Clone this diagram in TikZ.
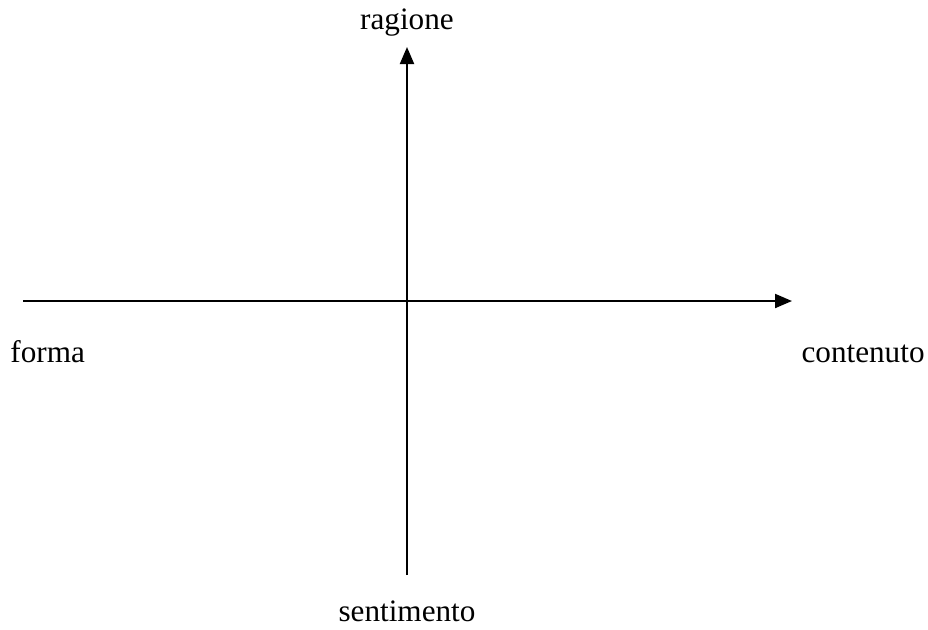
\documentclass[tikz,border=0pt]{standalone}
\usepackage{fontspec}
\setmainfont{Liberation Serif}
\usetikzlibrary{arrows.meta}

\begin{document}
\begin{tikzpicture}[
    x=0.5pt, y=-0.5pt,
    font=\fontsize{15.6}{18}\selectfont,
    axis/.style={-{Triangle[length=8.5pt, width=7pt]}, line width=1pt, draw=black},
    lbl/.style={inner sep=0pt, anchor=base}
]
    \useasboundingbox (0,0) rectangle (928,629);

    % Axis end points
    \coordinate (left) at (23,301);
    \coordinate (right) at (792,301);
    \coordinate (bottom) at (407,575);
    \coordinate (top) at (407,47);

    % Labels
    \node[lbl] (ragione) at (407,29) {ragione};
    \node[lbl, anchor=base west] (forma) at (10,362) {forma};
    \node[lbl, anchor=base east] (contenuto) at (925,362) {contenuto};
    \node[lbl] (sentimento) at (407,621) {sentimento};

    % Axes
    \draw[axis] (left) -- (right);
    \draw[axis] (bottom) -- (top);
\end{tikzpicture}
\end{document}
